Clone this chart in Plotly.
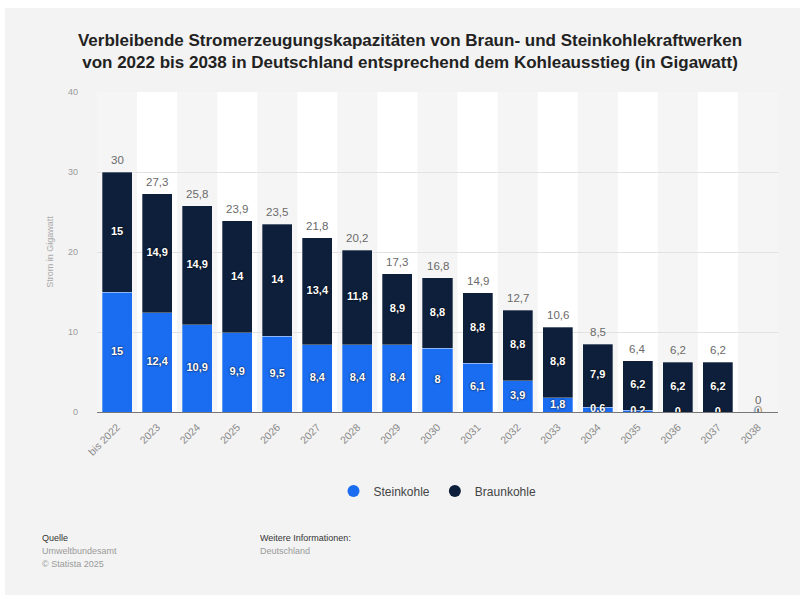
import plotly.graph_objects as go

# Jahre und verbleibende Kapazitäten (GW)
jahre = ["bis 2022", "2023", "2024", "2025", "2026", "2027", "2028", "2029", "2030",
         "2031", "2032", "2033", "2034", "2035", "2036", "2037", "2038"]
steinkohle = [15, 12.4, 10.9, 9.9, 9.5, 8.4, 8.4, 8.4, 8, 6.1, 3.9, 1.8, 0.6, 0.2, 0, 0, 0]
braunkohle = [15, 14.9, 14.9, 14, 14, 13.4, 11.8, 8.9, 8.8, 8.8, 8.8, 8.8, 7.9, 6.2, 6.2, 6.2, 0]
y_ticks = [0, 10, 20, 30, 40]

BLUE = "#1a6cf0"
NAVY = "#0d1f3a"
FONT = "Liberation Sans"


def de(v):
    """Zahl mit deutschem Dezimalkomma."""
    return f"{round(v, 1):g}".replace(".", ",")


summen = [round(s + b, 1) for s, b in zip(steinkohle, braunkohle)]

fig = go.Figure()

fig.add_trace(go.Bar(x=jahre, y=steinkohle, name="Steinkohle", marker_color=BLUE,
                     marker_line=dict(color="rgba(255,255,255,0.5)", width=0.6),
                     showlegend=False, hoverinfo="skip"))
fig.add_trace(go.Bar(x=jahre, y=braunkohle, name="Braunkohle", marker_color=NAVY,
                     marker_line=dict(color="rgba(255,255,255,0.5)", width=0.6),
                     showlegend=False, hoverinfo="skip"))

label_font = dict(family=FONT, size=11, color="white", weight="bold",
                  shadow="0px 0px 2px #000")

# Segmentbeschriftungen in der Mitte der jeweiligen Teilsäule
fig.add_trace(go.Scatter(x=jahre, y=[s / 2 for s in steinkohle], mode="text",
                         text=[de(v) for v in steinkohle], textposition="middle center",
                         textfont=label_font, showlegend=False, hoverinfo="skip"))
fig.add_trace(go.Scatter(x=jahre, y=[s + b / 2 for s, b in zip(steinkohle, braunkohle)],
                         mode="text", text=[de(v) for v in braunkohle],
                         textposition="middle center", textfont=label_font,
                         showlegend=False, hoverinfo="skip"))

# Legendeneinträge mit runden Symbolen
for name, col in (("Steinkohle", BLUE), ("Braunkohle", NAVY)):
    fig.add_trace(go.Scatter(x=[None], y=[None], mode="markers", name=name,
                             marker=dict(symbol="circle", size=12, color=col)))

# Abwechselnd helle Spalten im Hintergrund
shapes = []
for i in range(len(jahre)):
    if i % 2 == 1:
        shapes.append(dict(type="rect", xref="x", yref="y", x0=i - 0.5, x1=i + 0.5,
                           y0=0, y1=40, fillcolor="white", line_width=0, layer="below"))

L, R, T, B = 97, 22, 92, 183
W, H = 800 - L - R, 595 - T - B


def px_x(p):
    return (p - L) / W


def px_y(p):
    return (595 - B - p) / H


# weißer Rand oben und links
shapes.append(dict(type="rect", xref="paper", yref="paper", x0=px_x(0), x1=px_x(800),
                   y0=px_y(8), y1=px_y(0), fillcolor="white", line_width=0, layer="below"))
shapes.append(dict(type="rect", xref="paper", yref="paper", x0=px_x(0), x1=px_x(5),
                   y0=px_y(595), y1=px_y(0), fillcolor="white", line_width=0, layer="below"))

# Summen über den Säulen (Kategorieindex als x-Position)
annotations = [
    dict(x=i, y=s, xref="x", yref="y", text=de(s), showarrow=False, yshift=12,
         yanchor="middle", font=dict(family=FONT, size=11.5, color="#6a6a6a"))
    for i, s in enumerate(summen)
]

footer = [
    dict(text="Quelle", x=px_x(40), y=px_y(538), font=dict(size=9, color="#333")),
    dict(text="Umweltbundesamt", x=px_x(40), y=px_y(551), font=dict(size=9, color="#9a9a9a")),
    dict(text="© Statista 2025", x=px_x(40), y=px_y(564), font=dict(size=9, color="#9a9a9a")),
    dict(text="Weitere Informationen:", x=px_x(258), y=px_y(538), font=dict(size=9, color="#333")),
    dict(text="Deutschland", x=px_x(258), y=px_y(551), font=dict(size=9, color="#9a9a9a")),
]
for a in footer:
    a.update(xref="paper", yref="paper", xanchor="left", yanchor="middle", showarrow=False)
    a["font"]["family"] = FONT
annotations += footer

fig.update_layout(
    width=800, height=595,
    margin=dict(l=L, r=R, t=T, b=B, pad=0),
    paper_bgcolor="#f3f3f3", plot_bgcolor="#f5f5f5",
    barmode="stack", bargap=0.25,
    font=dict(family=FONT, color="#444"),
    title=dict(
        text="Verbleibende Stromerzeugungskapazitäten von Braun- und Steinkohlekraftwerken"
             "<br>von 2022 bis 2038 in Deutschland entsprechend dem Kohleausstieg (in Gigawatt)",
        x=410 / 800, xref="container", xanchor="center", y=1 - 45.5 / 595, yanchor="middle",
        font=dict(family=FONT, size=17, color="#222", weight="bold")),
    xaxis=dict(type="category", tickangle=-45, tickfont=dict(size=10.5, color="#8a8a8a"),
               showgrid=False, showline=True, linecolor="#777", linewidth=1,
               ticks="", ticklabelstandoff=4, range=[-0.5, len(jahre) - 0.5]),
    yaxis=dict(range=[0, 40], tickvals=y_ticks, ticktext=[str(t) for t in y_ticks],
               tickfont=dict(size=9, color="#9a9a9a"), gridcolor="#e2e2e2",
               zeroline=False, ticks="", ticklabelstandoff=18,
               title=dict(text="Strom in Gigawatt", font=dict(size=9, color="#aaaaaa"),
                          standoff=12)),
    legend=dict(orientation="h", x=0.5, xanchor="center", y=px_y(491), yanchor="middle",
                traceorder="normal", font=dict(size=12, color="#444"),
                bgcolor="rgba(0,0,0,0)", itemsizing="constant"),
    shapes=shapes,
    annotations=annotations,
)

fig.write_html("out.html")
